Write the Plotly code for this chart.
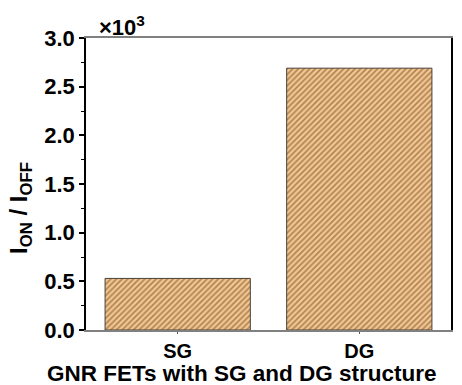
import plotly.graph_objects as go

categories = ["SG", "DG"]
ratio_e3 = [0.53, 2.69]
y_ticks = [0.0, 0.5, 1.0, 1.5, 2.0, 2.5, 3.0]
y_ticklabels = ["0.0", "0.5", "1.0", "1.5", "2.0", "2.5", "3.0"]

FONT = "Arial, Liberation Sans, sans-serif"

fig = go.Figure()
fig.add_trace(go.Bar(
    x=categories, y=ratio_e3, width=0.8,
    marker=dict(
        color="#F6C58C",
        line=dict(color="#4a4038", width=1),
        pattern=dict(shape="/", fgcolor="#5a4226", bgcolor="#F6C58C",
                     size=4, solidity=0.4, fillmode="overlay"),
    ),
    showlegend=False,
))

fig.update_layout(
    width=462, height=385,
    margin=dict(l=86, r=11, t=38, b=55),
    paper_bgcolor="white", plot_bgcolor="white",
    font=dict(family=FONT, color="black"),
    bargap=0.2,
)
fig.update_xaxes(
    range=[-0.505, 1.505], automargin=False,
    showline=True, linecolor="#808080", linewidth=1.5, mirror=True,
    ticks="outside", ticklen=2, tickcolor="#555",
    tickfont=dict(size=20, family=FONT, weight="bold"),
    showgrid=False,
)
fig.update_yaxes(
    range=[0, 3.0], automargin=False,
    tickvals=y_ticks, ticktext=y_ticklabels,
    showline=True, linecolor="black", linewidth=1.5, mirror=True,
    ticks="outside", ticklen=5, tickcolor="black", tickwidth=1.5,
    minor=dict(ticks="outside", ticklen=3, dtick=0.25, tickcolor="black", tickwidth=1),
    tickfont=dict(size=22, family=FONT, weight="bold"),
    showgrid=False, zeroline=False,
)
fig.add_annotation(
    text="<b>GNR FETs with SG and DG structure</b>", xref="paper", yref="paper",
    x=0.427, y=-0.149, xanchor="center", yanchor="middle", showarrow=False,
    borderpad=0,
    font=dict(size=22.5, family=FONT, color="black"),
)
fig.add_annotation(
    text="<b>I<sub>ON</sub> / I<sub>OFF</sub></b>", xref="paper", yref="paper",
    x=-0.178, y=0.418, xanchor="center", yanchor="middle", showarrow=False,
    textangle=-90,
    font=dict(size=24, family=FONT, color="black"),
)
fig.add_annotation(
    text="<b>×10<sup>3</sup></b>", xref="paper", yref="paper",
    x=0.03, y=1.0, xanchor="left", yanchor="bottom", showarrow=False,
    font=dict(size=22, family=FONT, color="black"), yshift=-4,
)

fig.write_html("out.html")
